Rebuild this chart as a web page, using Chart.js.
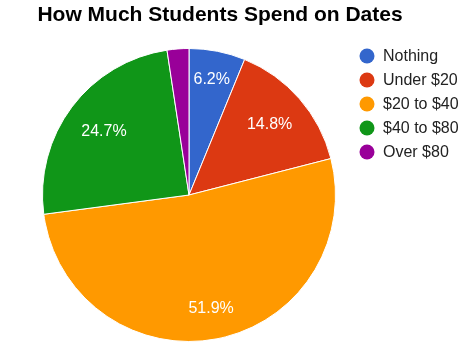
<!DOCTYPE html>
<html>
<head>
<meta charset="utf-8">
<script src="https://cdn.jsdelivr.net/npm/chart.js@4/dist/chart.umd.min.js"></script>
<style>
  html, body { margin: 0; padding: 0; background: #fff; }
  #wrap { position: relative; width: 475px; height: 348px; }
</style>
</head>
<body>
<div id="wrap"><canvas id="c" width="475" height="348"></canvas></div>
<script>
const chartTitle = 'How Much Students Spend on Dates';
const categories = ['Nothing', 'Under $20', '$20 to $40', '$40 to $80', 'Over $80'];
const percentages = [6.2, 14.8, 51.9, 24.7, 2.4];
const sliceColors = ['#3366cc', '#dc3912', '#ff9900', '#109618', '#990099'];
const FONT = '"Liberation Sans", Arial, sans-serif';

// Title, legend and in-slice percentage labels
const decorations = {
  id: 'decorations',
  afterDatasetsDraw(chart) {
    const ctx = chart.ctx;
    ctx.save();
    // percentage labels, hidden on thin slices; the outer corner of each
    // label box is kept at a fixed fraction of the radius
    const meta = chart.getDatasetMeta(0);
    ctx.fillStyle = '#ffffff';
    ctx.font = '16px ' + FONT;
    ctx.textAlign = 'center';
    ctx.textBaseline = 'middle';
    meta.data.forEach((arc, i) => {
      const v = percentages[i];
      if (v < 5) return;
      const text = v.toFixed(1) + '%';
      const mid = (arc.startAngle + arc.endAngle) / 2;
      const ux = Math.cos(mid), uy = Math.sin(mid);
      const cx = Math.sign(ux) * ctx.measureText(text).width / 2;
      const cy = Math.sign(uy) * 7;
      const rc = arc.outerRadius * 0.88;
      const dot = ux * cx + uy * cy;
      const t = -dot + Math.sqrt(dot * dot - (cx * cx + cy * cy) + rc * rc);
      ctx.fillText(text, arc.x + ux * t, arc.y + uy * t);
    });
    // title
    ctx.fillStyle = '#000000';
    ctx.font = 'bold 21px ' + FONT;
    ctx.textAlign = 'center';
    ctx.textBaseline = 'alphabetic';
    ctx.fillText(chartTitle, 220, 21);
    // legend
    ctx.font = '16px ' + FONT;
    ctx.textAlign = 'left';
    ctx.textBaseline = 'middle';
    categories.forEach((name, i) => {
      const y = 56 + i * 24;
      ctx.fillStyle = sliceColors[i];
      ctx.beginPath();
      ctx.arc(367, y, 7.5, 0, Math.PI * 2);
      ctx.fill();
      ctx.fillStyle = '#222222';
      ctx.fillText(name, 383, y + 1);
    });
    ctx.restore();
  }
};

new Chart(document.getElementById('c'), {
  type: 'pie',
  data: {
    labels: categories,
    datasets: [{
      data: percentages,
      backgroundColor: sliceColors,
      borderColor: '#ffffff',
      borderWidth: 1
    }]
  },
  options: {
    responsive: false,
    animation: false,
    layout: { padding: { left: 42, top: 48, right: 139, bottom: 6 } },
    plugins: {
      legend: { display: false },
      title: { display: false },
      tooltip: { enabled: false }
    }
  },
  plugins: [decorations]
});
</script>
</body>
</html>
